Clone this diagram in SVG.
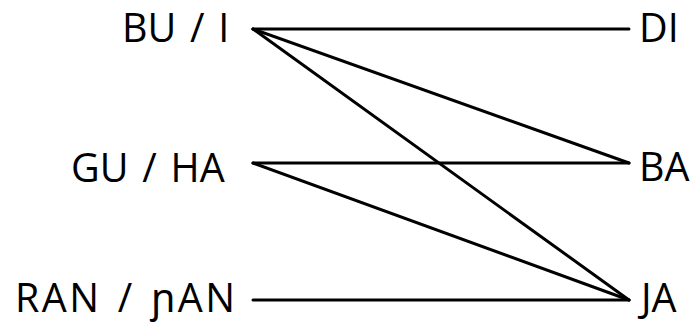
<svg xmlns="http://www.w3.org/2000/svg" width="698" height="326" viewBox="0 0 698 326">
<style>
text{font-family:"Open Sans","Noto Sans","DejaVu Sans",sans-serif;font-size:39.5px;fill:#000}
.w{word-spacing:3.5px}
.c line{stroke:#000;stroke-width:3;stroke-linecap:round}
</style>
<rect width="698" height="326" fill="#fff"/>
<g id="n-bui"><text class="w" x="122" y="42">BU / I</text></g>
<g id="n-guha"><text class="w" x="71" y="182">GU / HA</text></g>
<g id="n-ran"><text class="w" x="15" y="312" textLength="220" lengthAdjust="spacing">RAN / ɲAN</text></g>
<g id="n-di"><text x="639" y="42">DI</text></g>
<g id="n-ba"><text x="639" y="181">BA</text></g>
<g id="n-ja"><text x="641" y="312">JA</text></g>
<g class="c" id="connectors">
<line x1="253" y1="29" x2="629" y2="29"/>
<line x1="253" y1="29" x2="629" y2="163"/>
<line x1="253" y1="29" x2="629" y2="300"/>
<line x1="253" y1="163" x2="629" y2="163"/>
<line x1="253" y1="163" x2="629" y2="300"/>
<line x1="253" y1="300" x2="629" y2="300"/>
</g>
</svg>
